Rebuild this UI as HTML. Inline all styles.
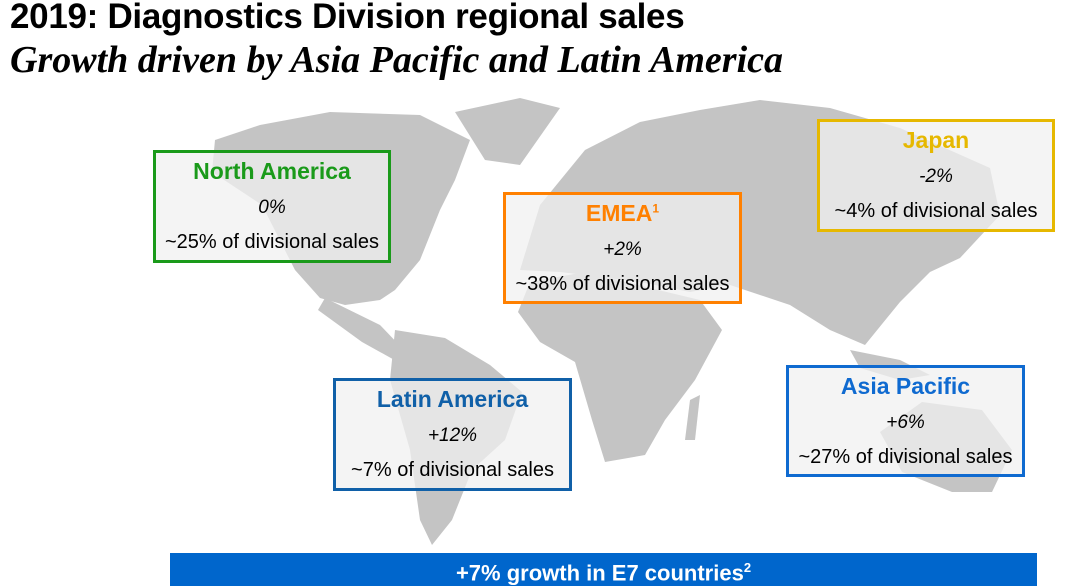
<!DOCTYPE html>
<html><head><meta charset="utf-8"><style>
body{margin:0;width:1079px;height:586px;background:#fff;position:relative;overflow:hidden;font-family:"Liberation Sans",sans-serif}
.t1{position:absolute;left:10px;top:-3px;font-weight:bold;font-size:35px;letter-spacing:-0.3px;color:#000;white-space:nowrap}
.t2{position:absolute;left:10px;top:38px;font-family:"Liberation Serif",serif;font-style:italic;font-weight:bold;font-size:38px;color:#000;white-space:nowrap}
.box{position:absolute;box-sizing:border-box;border:3px solid;background:rgba(240,240,240,0.75);text-align:center;color:#000;font-size:20px;white-space:nowrap}
.box .h{font-weight:bold;font-size:23px;position:absolute;left:0;right:0;top:5px}
.box .p{font-style:italic;position:absolute;left:0;right:0;top:44px;font-size:19px}
.box .s{position:absolute;left:0;right:0;top:78px}
.bar{position:absolute;left:170px;top:553px;width:867px;height:33px;background:#0066cc;color:#fff;font-weight:bold;font-size:22px;text-align:center;line-height:29px}
</style></head><body>
<svg width="1079" height="586" style="position:absolute;left:0;top:0" fill="#c4c4c4">
<polygon points="215,140 260,125 330,112 420,115 470,140 455,180 440,210 420,260 395,290 380,300 345,305 320,298 295,270 262,205 212,172"/>
<polygon points="325,298 380,325 402,348 398,362 362,342 318,310"/>
<polygon points="455,112 520,98 560,108 520,165 485,160"/>
<polygon points="395,330 445,338 490,365 522,392 505,440 472,470 452,520 432,545 420,520 410,450 390,380"/>
<polygon points="520,270 540,205 585,150 640,122 700,110 760,100 830,108 900,128 990,168 1000,215 960,258 930,272 900,302 865,345 830,330 790,305 730,285 690,292 640,282 560,272"/>
<polygon points="530,282 585,272 650,288 700,300 722,330 695,380 665,420 645,455 605,462 592,420 575,362 540,342 518,312"/>
<polygon points="690,400 700,395 695,440 685,440"/>
<polygon points="880,432 922,402 982,410 1012,450 992,492 952,492 902,472"/>
<polygon points="850,350 900,360 930,375 900,380 860,368"/>
</svg>
<div class="t1">2019: Diagnostics Division regional sales</div>
<div class="t2">Growth driven by Asia Pacific and Latin America</div>
<div class="box" style="left:153px;top:150px;width:238px;height:113px;border-color:#1a9a1a"><div class="h" style="color:#1a9a1a">North America</div><div class="p">0%</div><div class="s">~25% of divisional sales</div></div>
<div class="box" style="left:503px;top:192px;width:239px;height:112px;border-color:#ff8000"><div class="h" style="color:#ff8000">EMEA<sup style="font-size:12px">1</sup></div><div class="p">+2%</div><div class="s">~38% of divisional sales</div></div>
<div class="box" style="left:817px;top:119px;width:238px;height:113px;border-color:#e6b800"><div class="h" style="color:#e6b800">Japan</div><div class="p">-2%</div><div class="s">~4% of divisional sales</div></div>
<div class="box" style="left:333px;top:378px;width:239px;height:113px;border-color:#1060a8"><div class="h" style="color:#1060a8">Latin America</div><div class="p">+12%</div><div class="s">~7% of divisional sales</div></div>
<div class="box" style="left:786px;top:365px;width:239px;height:112px;border-color:#0f6ad0"><div class="h" style="color:#0f6ad0">Asia Pacific</div><div class="p">+6%</div><div class="s">~27% of divisional sales</div></div>
<div class="bar">+7% growth in E7 countries<sup style="font-size:13px">2</sup></div>
</body></html>
